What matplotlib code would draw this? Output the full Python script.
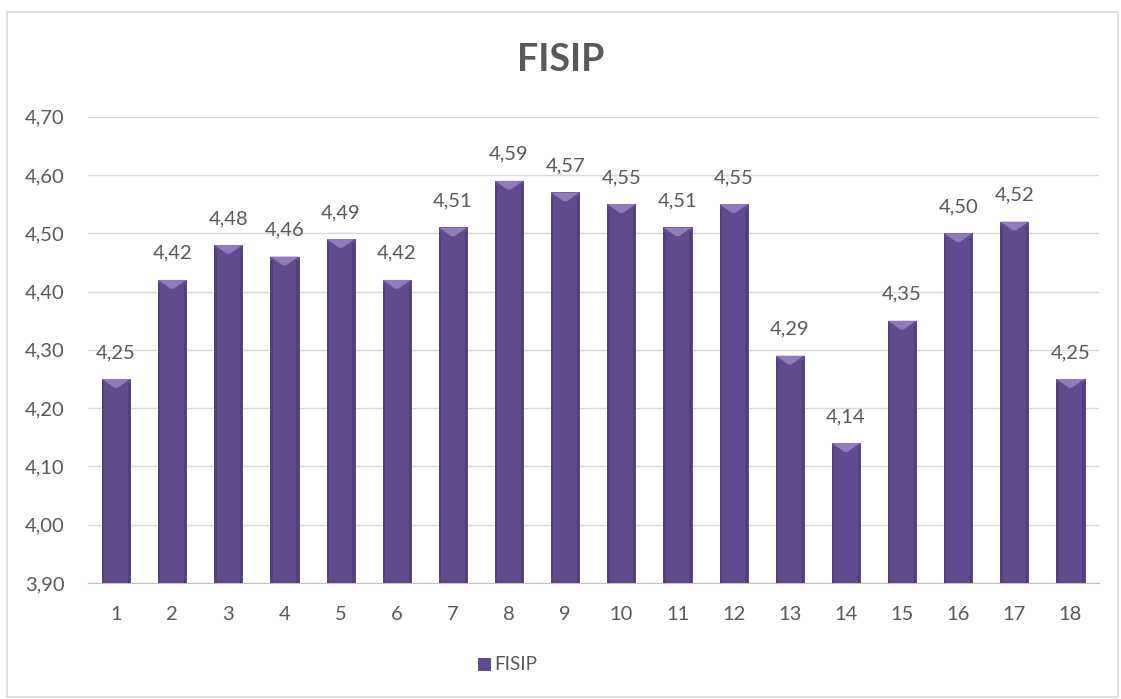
import numpy as np
import matplotlib.pyplot as plt
from matplotlib.patches import Polygon, Rectangle

# data
categories = [str(i) for i in range(1, 19)]
values = [4.25, 4.42, 4.48, 4.46, 4.49, 4.42, 4.51, 4.59, 4.57,
          4.55, 4.51, 4.55, 4.29, 4.14, 4.35, 4.50, 4.52, 4.25]
yticks = [3.90, 4.00, 4.10, 4.20, 4.30, 4.40, 4.50, 4.60, 4.70]

plt.rcParams['font.family'] = ['Lato', 'DejaVu Sans']
text_col = '#595959'
bar_col = '#604c8d'
top_col = '#8f7cbc'

fig = plt.figure(figsize=(11.21, 6.99), dpi=100)
ax = fig.add_axes([0.0785, 0.166, 0.9015, 0.667])

x = np.arange(len(categories))
w = 0.5
ax.bar(x, [v - 3.9 for v in values], bottom=3.9, width=w, color=bar_col,
       edgecolor='#4b3a72', linewidth=0.6, zorder=3)

# bevel on top of each bar
bh = 0.015
for xi, v in zip(x, values):
    ax.add_patch(Polygon([(xi - w / 2, v), (xi + w / 2, v), (xi + w * 0.06, v - bh),
                          (xi - w * 0.06, v - bh)], closed=True,
                         facecolor=top_col, edgecolor='none', zorder=4))
    ax.add_patch(Rectangle((xi - w / 2, 3.9), w * 0.08, v - 3.9 - bh * 0.5,
                           facecolor='#523f7b', edgecolor='none', zorder=4))
    ax.add_patch(Rectangle((xi + w * 0.42, 3.9), w * 0.08, v - 3.9 - bh * 0.5,
                           facecolor='#523f7b', edgecolor='none', zorder=4))
    ax.annotate(f'{v:.2f}'.replace('.', ','), (xi, v), xytext=(0, 13),
                textcoords='offset points', ha='center', va='bottom',
                fontsize=14.5, color=text_col)

ax.set_xlim(-0.5, len(categories) - 0.5)
ax.set_ylim(3.9, 4.7)
ax.set_xticks(x)
ax.set_xticklabels(categories)
ax.set_yticks(yticks)
ax.set_yticklabels([f'{t:.2f}'.replace('.', ',') for t in yticks])
ax.tick_params(axis='x', length=0, labelsize=14.5, colors=text_col, pad=16.5)
ax.tick_params(axis='y', length=0, labelsize=14.5, colors=text_col, pad=17)
ax.grid(axis='y', color='#d9d9d9', linewidth=1, zorder=0)
for s in ['left', 'right', 'top']:
    ax.spines[s].set_visible(False)
ax.spines['bottom'].set_color('#bfbfbf')

fig.text(0.5, 0.914, 'FISIP', ha='center', va='center', fontsize=27,
         fontweight='bold', color=text_col)

# legend
lx, ly = 0.4265, 0.049
fig.patches.append(Rectangle((lx, ly - 0.0095), 0.0115, 0.0185, transform=fig.transFigure,
                             facecolor=bar_col, edgecolor='none'))
fig.text(lx + 0.0145, ly, 'FISIP', ha='left', va='center', fontsize=13.5, color=text_col)

# outer border
fig.patches.append(Rectangle((0.006, 0.003), 0.991, 0.98, transform=fig.transFigure,
                             fill=False, edgecolor='#d9d9d9', linewidth=1.2))

fig.savefig('out.png', dpi=100)
